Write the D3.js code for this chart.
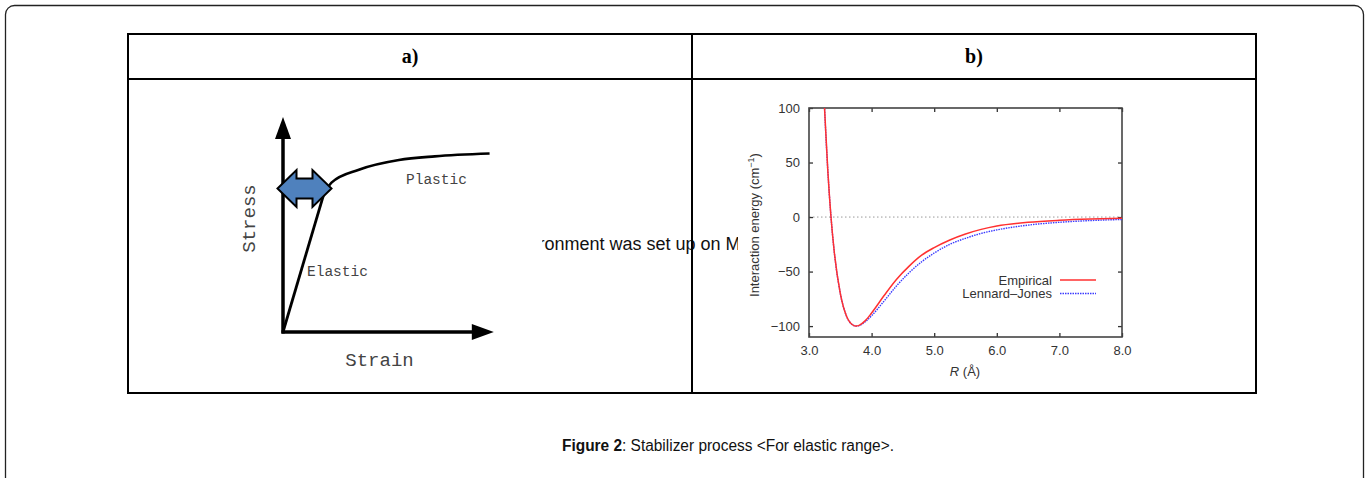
<!DOCTYPE html>
<html>
<head>
<meta charset="utf-8">
<script src="https://cdn.jsdelivr.net/npm/d3@7"></script>
<style>
  body { margin: 0; background: #fff; }
  svg { display: block; }
</style>
</head>
<body>
<svg id="fig" width="1367" height="478"></svg>
<script>
// ---- data ----
const panelTitles = ["a)", "b)"];

// panel a: schematic stress-strain curve (arbitrary units 0..10)
const elasticStrain = [0, 1.9];
const elasticStress = [0, 6.3];
const plasticStrain = [1.9, 2.3, 3.6, 5.5, 7.2, 9.8];
const plasticStress = [6.3, 6.95, 7.55, 8.0, 8.17, 8.3];
const diagramLabels = ["Stress", "Strain", "Elastic", "Plastic"];

// panel b: interaction energy vs distance
const rValues = [3.2, 3.25, 3.3, 3.35, 3.4, 3.5, 3.6, 3.7, 3.75, 3.8, 3.9, 4.0, 4.2, 4.4, 4.6, 4.8, 5.0, 5.25, 5.5, 5.75, 6.0, 6.5, 7.0, 7.5, 8.0];
const empiricalEnergy = [170, 98, 43, 1, -30, -70, -91, -99, -100, -99.3, -95, -88, -72, -57, -45, -35, -28, -21, -15.5, -11.3, -8.2, -4.8, -3, -1.9, -1.2];
const lennardJonesEnergy = [170, 98, 43, 1, -30, -70, -91, -99, -100, -99.5, -96, -90.5, -77, -63, -51, -41, -33, -25, -19.5, -15, -11.8, -7.4, -4.8, -3.2, -2.2];
const xTicks = [3, 4, 5, 6, 7, 8];
const yTicks = [-100, -50, 0, 50, 100];
const legendLabels = ["Empirical", "Lennard\u2013Jones"];

const captionBold = "Figure 2";
const captionRest = ": Stabilizer process <For elastic range>.";
const strayText = "environment was set up on MATLAB";

// ---- layout ----
const svg = d3.select("#fig");
const table = {left: 128, right: 1256, top: 34, header: 79, bottom: 393, mid: 692};

// outer rounded frame
svg.append("rect")
    .attr("x", 5.5).attr("y", 5.5)
    .attr("width", 1358).attr("height", 500)
    .attr("rx", 9)
    .attr("fill", "none")
    .attr("stroke", "#222")
    .attr("stroke-width", 1.3);

// stray text leaking from page behind the figure images
const clip0 = svg.append("clipPath").attr("id", "strayClip");
clip0.append("rect").attr("x", 542).attr("y", 225).attr("width", 196).attr("height", 40);
const stray = svg.append("text")
    .attr("clip-path", "url(#strayClip)")
    .attr("y", 250)
    .attr("font-family", "Liberation Sans, Arial, sans-serif")
    .attr("font-size", 18)
    .attr("fill", "#111")
    .text(strayText);
const prefixW = stray.node().getSubStringLength(0, 5);
stray.attr("x", 542 - prefixW + 2.5);

// table grid
const grid = svg.append("g").attr("stroke", "#000").attr("stroke-width", 2).attr("fill", "none");
grid.append("rect")
    .attr("x", table.left).attr("y", table.top)
    .attr("width", table.right - table.left).attr("height", table.bottom - table.top);
grid.append("line").attr("x1", table.left).attr("x2", table.right).attr("y1", table.header).attr("y2", table.header);
grid.append("line").attr("x1", table.mid).attr("x2", table.mid).attr("y1", table.top).attr("y2", table.bottom);

svg.selectAll(".panelTitle")
    .data(panelTitles)
    .join("text")
    .attr("class", "panelTitle")
    .attr("x", (d, i) => i === 0 ? (table.left + table.mid) / 2 : (table.mid + table.right) / 2)
    .attr("y", 63)
    .attr("text-anchor", "middle")
    .attr("font-family", "Liberation Serif, Times New Roman, serif")
    .attr("font-weight", "bold")
    .attr("font-size", 20)
    .text(d => d);

// ---- panel a ----
const ax = d3.scaleLinear().domain([0, 10]).range([283, 493.8]);
const ay = d3.scaleLinear().domain([0, 10]).range([332, 117]);
const pa = svg.append("g");

// axes with arrow heads
pa.append("line").attr("x1", ax(0)).attr("x2", ax(0)).attr("y1", ay(0) + 1.5).attr("y2", ay(9.1))
    .attr("stroke", "#000").attr("stroke-width", 3.5);
pa.append("line").attr("x1", ax(0) - 1.5).attr("x2", ax(9.1)).attr("y1", ay(0)).attr("y2", ay(0))
    .attr("stroke", "#000").attr("stroke-width", 3.5);
pa.append("path")
    .attr("d", `M${ax(0)},${ay(10)} L${ax(0) - 8},${ay(10) + 22} L${ax(0) + 8},${ay(10) + 22} Z`)
    .attr("fill", "#000");
pa.append("path")
    .attr("d", `M${ax(10)},${ay(0)} L${ax(10) - 22},${ay(0) - 8} L${ax(10) - 22},${ay(0) + 8} Z`)
    .attr("fill", "#000");

const lineA = d3.line().x(d => ax(d[0])).y(d => ay(d[1]));
pa.append("path")
    .attr("d", lineA(elasticStrain.map((s, i) => [s, elasticStress[i]])))
    .attr("fill", "none").attr("stroke", "#000").attr("stroke-width", 2.8);
pa.append("path")
    .attr("d", lineA.curve(d3.curveMonotoneX)(plasticStrain.map((s, i) => [s, plasticStress[i]])))
    .attr("fill", "none").attr("stroke", "#000").attr("stroke-width", 2.6);

const monoFont = "Liberation Mono, Courier New, monospace";
pa.append("text")
    .attr("transform", `translate(255,218.5) rotate(-90)`)
    .attr("text-anchor", "middle")
    .attr("font-family", monoFont).attr("font-size", 19).attr("fill", "#444")
    .text(diagramLabels[0]);
pa.append("text")
    .attr("x", 379.5).attr("y", 366)
    .attr("text-anchor", "middle")
    .attr("font-family", monoFont).attr("font-size", 19).attr("fill", "#444")
    .text(diagramLabels[1]);
pa.append("text")
    .attr("x", 307).attr("y", 275.5)
    .attr("font-family", monoFont).attr("font-size", 14.5).attr("fill", "#444")
    .text(diagramLabels[2]);
pa.append("text")
    .attr("x", 406).attr("y", 184)
    .attr("font-family", monoFont).attr("font-size", 14.5).attr("fill", "#444")
    .text(diagramLabels[3]);

// blue double-headed arrow
const cx = 304.5, cy = 188.5;
const arrowPts = [
    [-27, 0], [-8, -18.5], [-8, -10], [8, -10], [8, -18.5], [27, 0],
    [8, 18.5], [8, 10], [-8, 10], [-8, 18.5]
];
pa.append("path")
    .attr("d", "M" + arrowPts.map(p => (cx + p[0]) + "," + (cy + p[1])).join("L") + "Z")
    .attr("fill", "#4f81bd")
    .attr("stroke", "#000")
    .attr("stroke-width", 2)
    .attr("stroke-linejoin", "miter");

// ---- panel b ----
const plot = {left: 809, right: 1122, top: 108, bottom: 337};
const x = d3.scaleLinear().domain([3, 8]).range([plot.left, plot.right]);
const y = d3.scaleLinear().domain([-110, 100]).range([plot.bottom, plot.top]);
const pb = svg.append("g");
const sans = "Liberation Sans, Arial, Helvetica, sans-serif";

svg.append("clipPath").attr("id", "plotClip")
    .append("rect").attr("x", plot.left).attr("y", plot.top)
    .attr("width", plot.right - plot.left).attr("height", plot.bottom - plot.top);

// zero line
pb.append("line")
    .attr("x1", plot.left).attr("x2", plot.right)
    .attr("y1", y(0)).attr("y2", y(0))
    .attr("stroke", "#999").attr("stroke-width", 1).attr("stroke-dasharray", "1.5,2.5");

const fmtX = d3.format(".1f");
const fmtY = d => (d < 0 ? "\u2212" + Math.abs(d) : d);

const xAxis = pb.append("g").attr("transform", `translate(0,${plot.bottom})`)
    .call(d3.axisBottom(x).tickValues(xTicks).tickFormat(fmtX).tickSizeInner(-4).tickSizeOuter(0).tickPadding(9));
const xAxisTop = pb.append("g").attr("transform", `translate(0,${plot.top})`)
    .call(d3.axisTop(x).tickValues(xTicks).tickFormat("").tickSizeInner(-4).tickSizeOuter(0));
const yAxis = pb.append("g").attr("transform", `translate(${plot.left},0)`)
    .call(d3.axisLeft(y).tickValues(yTicks).tickFormat(fmtY).tickSizeInner(-4).tickSizeOuter(0).tickPadding(9));
const yAxisRight = pb.append("g").attr("transform", `translate(${plot.right},0)`)
    .call(d3.axisRight(y).tickValues(yTicks).tickFormat("").tickSizeInner(-4).tickSizeOuter(0));

[xAxis, xAxisTop, yAxis, yAxisRight].forEach(g => {
    g.select(".domain").remove();
    g.selectAll(".tick line").attr("stroke", "#333").attr("stroke-width", 1.3);
    g.selectAll(".tick text").attr("font-family", sans).attr("font-size", 13).attr("fill", "#333");
});

// frame
pb.append("rect")
    .attr("x", plot.left).attr("y", plot.top)
    .attr("width", plot.right - plot.left).attr("height", plot.bottom - plot.top)
    .attr("fill", "none").attr("stroke", "#444").attr("stroke-width", 1.6);

// curves
const lineB = d3.line().x(d => x(d[0])).y(d => y(d[1])).curve(d3.curveMonotoneX);
const curves = pb.append("g").attr("clip-path", "url(#plotClip)");
curves.append("path")
    .attr("d", lineB(rValues.map((r, i) => [r, lennardJonesEnergy[i]])))
    .attr("fill", "none").attr("stroke", "#3a3aff").attr("stroke-width", 1.4)
    .attr("stroke-dasharray", "1.5,1");
curves.append("path")
    .attr("d", lineB(rValues.map((r, i) => [r, empiricalEnergy[i]])))
    .attr("fill", "none").attr("stroke", "#ff3030").attr("stroke-width", 1.5);

// axis titles
pb.append("text")
    .attr("x", 965).attr("y", 376)
    .attr("text-anchor", "middle")
    .attr("font-family", sans).attr("font-size", 13).attr("fill", "#333")
    .call(t => {
        t.append("tspan").attr("font-style", "italic").text("R");
        t.append("tspan").text(" (\u00c5)");
    });

pb.append("text")
    .attr("transform", "translate(759,225) rotate(-90)")
    .attr("text-anchor", "middle")
    .attr("font-family", sans).attr("font-size", 13).attr("fill", "#333")
    .call(t => {
        t.append("tspan").text("Interaction energy (cm");
        t.append("tspan").attr("dy", -5).attr("font-size", 9).text("\u22121");
        t.append("tspan").attr("dy", 5).text(")");
    });

// legend
const legendColors = ["#ff3030", "#3a3aff"];
const legend = pb.selectAll(".legendItem")
    .data(legendLabels)
    .join("g")
    .attr("class", "legendItem")
    .attr("transform", (d, i) => `translate(0,${280 + i * 13.5})`);
legend.append("text")
    .attr("x", 1052).attr("y", 4.5)
    .attr("text-anchor", "end")
    .attr("font-family", sans).attr("font-size", 13).attr("fill", "#333")
    .text(d => d);
legend.append("line")
    .attr("x1", 1060).attr("x2", 1096)
    .attr("stroke", (d, i) => legendColors[i])
    .attr("stroke-width", (d, i) => i === 0 ? 1.6 : 1.4)
    .attr("stroke-dasharray", (d, i) => i === 0 ? null : "1.5,1");

// caption
svg.append("text")
    .attr("x", 562).attr("y", 451)
    .attr("font-family", sans).attr("font-size", 16).attr("fill", "#111")
    .attr("textLength", 332).attr("lengthAdjust", "spacingAndGlyphs")
    .call(t => {
        t.append("tspan").attr("font-weight", "bold").text(captionBold);
        t.append("tspan").text(captionRest);
    });
</script>
</body>
</html>
